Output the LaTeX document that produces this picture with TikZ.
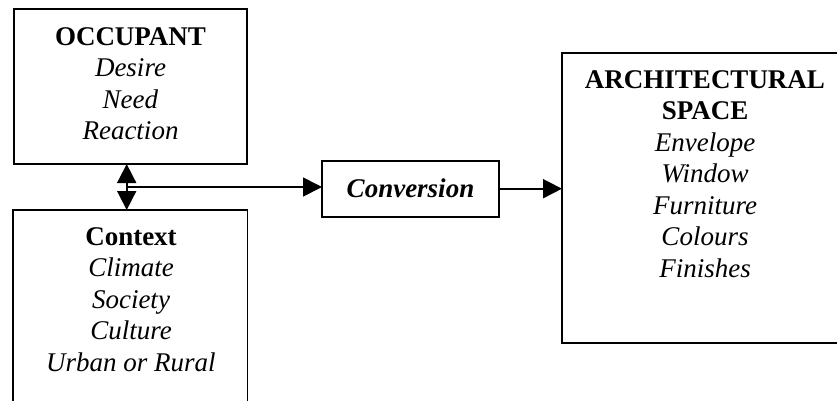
\documentclass[tikz,border=0pt]{standalone}
\usepackage{fontspec}
\setmainfont{Liberation Serif}
\usetikzlibrary{arrows.meta}
\begin{document}
\begin{tikzpicture}[x=1pt,y=-1pt,
  box/.style={draw, line width=1.9pt, inner sep=0pt, outer sep=0pt},
  txt/.style={anchor=north, align=center, inner sep=0pt, font=\fontsize{27}{31.5}\selectfont},
  tip/.tip={Triangle[length=19pt,width=19pt]},
  arr/.style={line width=1.7pt, -tip},
  darr/.style={line width=1.7pt, tip-tip},
]
\useasboundingbox (0,0) rectangle (837,400);
% boxes
\node[box, minimum width=233pt, minimum height=155pt] (occ) at (130.5,86.5) {};
\node[box, minimum width=234.5pt, minimum height=220pt] (ctx) at (130.25,320) {};
\node[box, minimum width=288pt, minimum height=290pt] (arch) at (706,198) {};
\node[box, minimum width=177pt, minimum height=56pt, font=\fontsize{27}{31.5}\selectfont\bfseries\itshape] (conv) at (410.5,188.7) {Conversion};
% texts
\node[txt] (occt) at (130.5,27.2) {\textbf{OCCUPANT}\\\textit{Desire}\\\textit{Need}\\\textit{Reaction}};
\node[txt] (ctxt) at (131,227.2) {\textbf{Context}\\\textit{Climate}\\\textit{Society}\\\textit{Culture}\\\textit{Urban or Rural}};
\node[txt] (archt) at (705,70.2) {\textbf{ARCHITECTURAL}\\\textbf{SPACE}\\\textit{Envelope}\\\textit{Window}\\\textit{Furniture}\\\textit{Colours}\\\textit{Finishes}};
% connectors
\coordinate (j) at (126.7,187);
\draw[darr] (j |- occ.south) -- (j |- ctx.north);
\draw[arr] (j) -- (j -| conv.west);
\draw[arr] (conv.east) -- (conv.east -| arch.west);
\end{tikzpicture}
\end{document}
